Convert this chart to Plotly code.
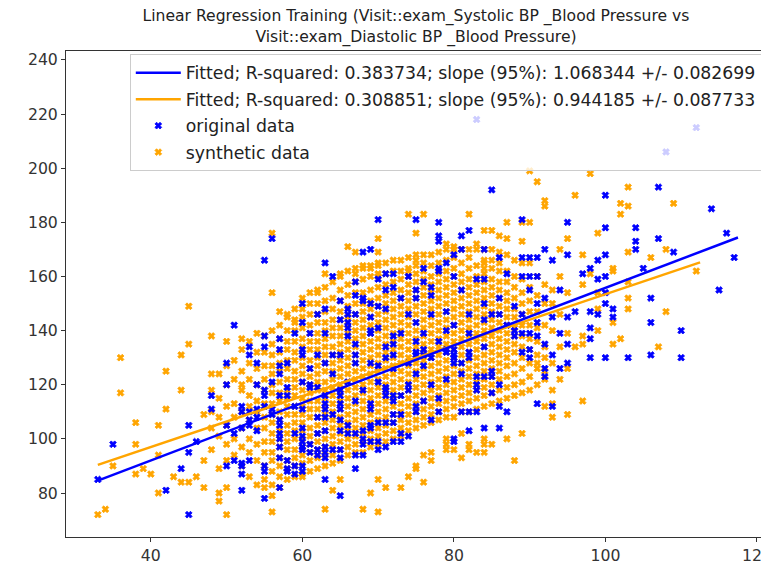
import plotly.graph_objects as go

# ---------------- text ----------------
TITLE = ("Linear Regression Training (Visit::exam_Systolic BP _Blood Pressure vs<br>"
         "Visit::exam_Diastolic BP _Blood Pressure)")
LABEL_FIT_ORIG = "Fitted; R-squared: 0.383734; slope (95%): 1.068344 +/- 0.082699"
LABEL_FIT_SYN = "Fitted; R-squared: 0.308851; slope (95%): 0.944185 +/- 0.087733"
LABEL_ORIG = "original data"
LABEL_SYN = "synthetic data"

x_ticks = [40, 60, 80, 100, 120]
y_ticks = [80, 100, 120, 140, 160, 180, 200, 220, 240]

# ---------------- fitted lines ----------------
fit_orig_x = [33, 117.5]
fit_orig_y = [84.6, 174.4]
fit_syn_x = [33, 112.5]
fit_syn_y = [90.4, 165.2]

# ---------------- original data (blue), per diastolic column ----------------
orig_col_x = [33, 35, 42, 44, 45, 46, 48, 50, 51, 52, 53, 54, 55, 56, 57, 58, 59, 60,
              61, 62, 63, 64, 65, 66, 67, 68, 69, 70, 71, 72, 73, 74, 75, 76, 77, 78,
              79, 80, 81, 82, 83, 84, 85, 86, 87, 88, 89, 90, 91, 92, 93, 94, 95, 96,
              97, 98, 99, 100, 101, 103, 104, 105, 106, 107, 108, 109, 110, 112, 114,
              115, 116, 117]
orig_col_y = [
    [85], [98], [81], [89], [72, 95, 105], [99], [111, 116],
    [90, 105, 120, 128], [92, 102, 142], [81, 87, 90, 91, 104, 110, 112],
    [92, 105, 107, 110, 131, 134], [103, 108, 111, 120, 128],
    [78, 88, 90, 112, 116, 118, 134, 138, 166], [109, 111, 121, 174],
    [82, 93, 97, 100, 102, 105, 107, 116, 124, 127, 133, 137],
    [88, 89, 92, 116, 119, 128], [87, 90, 102, 112, 139],
    [88, 90, 96, 97, 99, 101, 104, 111, 121, 131, 133, 143, 150],
    [95, 98, 119, 120, 126, 139], [94, 96, 102, 108, 119, 131, 146],
    [85, 93, 95, 97, 103, 108, 111, 113, 116, 128, 139, 148, 165],
    [96, 109, 124, 131, 160],
    [79, 93, 96, 103, 107, 111, 113, 116, 118, 131, 144, 151],
    [102, 105, 121, 138, 141, 143, 146, 148],
    [89, 94, 102, 114, 128, 131, 135, 146, 153, 158],
    [94, 98, 100, 103, 118, 151, 152, 169],
    [99, 104, 105, 111, 113, 128, 139, 140, 145, 150, 170],
    [96, 99, 106, 121, 127, 141, 149, 159, 181],
    [97, 106, 116, 118, 119, 130, 134, 148, 155, 161],
    [99, 106, 109, 114, 116, 126, 131, 135, 138, 156, 161],
    [99, 102, 109, 116, 139, 152],
    [101, 118, 120, 128, 146, 160],
    [110, 112, 124, 131, 132, 136, 143, 152, 155, 181],
    [114, 127, 131, 133, 139, 158, 163],
    [107, 120, 130, 146, 153, 156],
    [110, 115, 136, 162, 163, 173, 175, 180],
    [122, 132, 133, 140, 147, 165],
    [99, 100, 128, 130, 131, 133, 142, 160, 168],
    [110, 124, 128, 155, 170, 175],
    [103, 110, 130, 132, 139, 146, 177],
    [110, 118, 120, 123, 159, 218],
    [104, 123, 134, 144, 150, 159, 170],
    [117, 123, 125, 146, 192],
    [104, 112, 120, 146, 152, 167],
    [110, 142, 161],
    [138, 140, 149],
    [132, 139, 146, 160, 167, 181],
    [130, 133, 139, 155, 160, 167],
    [113, 138, 143, 150, 160, 167],
    [123, 126, 135, 152, 170],
    [112, 131, 145, 166],
    [126, 139, 155],
    [128, 135, 145, 168, 180],
    [147], [161],
    [130, 137, 141, 147, 163],
    [146, 159, 166],
    [130, 150, 154, 160, 168, 178, 190],
    [145, 148], [130], [170, 173, 178], [163], [131, 143, 152],
    [174, 193], [206], [169], [130, 140], [215], [185], [155], [176], [167],
]

# ---------------- synthetic data (orange) ----------------
syn_core_x = [48, 49, 50, 51, 52, 53, 54, 55, 56, 57, 58, 59, 60, 61, 62, 63, 64, 65,
              66, 67, 68, 69, 70, 71, 72, 73, 74, 75, 76, 77, 78, 79, 80, 81, 82, 83,
              84, 85, 86, 87, 88, 89, 90, 91, 92, 93, 94]
syn_core_y = [
    [104, 110, 124],
    [89, 101, 108, 115],
    [92, 98, 105, 112, 120],
    [94, 100, 108, 113, 122],
    [90, 97, 104, 110, 118, 125],
    [86, 95, 100, 107, 112, 116, 122, 128, 136],
    [92, 98, 104, 110, 114, 120, 126, 132],
    [90, 95, 99, 104, 108, 113, 118, 122, 127, 132],
    [88, 92, 95, 99, 102, 106, 109, 113, 117, 120, 124, 127, 131, 135, 140],
    [86, 90, 93, 97, 100, 103, 107, 110, 114, 117, 121, 125, 128, 132, 137, 142],
    [85, 89, 92, 96, 99, 102, 105, 109, 112, 115, 118, 122, 126, 129, 133, 136, 140, 145],
    [86, 90, 93, 96, 100, 103, 106, 109, 112, 116, 119, 122, 125, 129, 132, 136, 140, 144, 148],
    [87, 91, 94, 97, 100, 103, 106, 109, 112, 115, 118, 121, 124, 127, 130, 134, 137, 141, 145, 148, 152],
    [88, 92, 95, 98, 101, 104, 108, 111, 114, 117, 120, 123, 126, 129, 133, 136, 139, 142, 146, 150, 154],
    [89, 93, 96, 99, 102, 105, 108, 111, 114, 118, 121, 124, 127, 130, 133, 136, 139, 143, 146, 150, 155],
    [90, 94, 97, 100, 103, 106, 109, 112, 115, 118, 121, 125, 128, 131, 134, 137, 140, 143, 147, 151, 156],
    [91, 94, 98, 101, 104, 107, 110, 113, 116, 119, 122, 125, 128, 131, 134, 138, 141, 144, 148, 152, 158],
    [92, 96, 99, 102, 105, 108, 111, 114, 117, 120, 123, 126, 129, 132, 135, 138, 141, 144, 147, 151, 155, 160],
    [94, 97, 100, 103, 106, 109, 112, 115, 118, 121, 124, 127, 130, 133, 136, 139, 142, 145, 149, 153, 157, 162],
    [95, 98, 101, 104, 107, 110, 113, 116, 119, 122, 125, 128, 131, 134, 137, 140, 143, 146, 150, 154, 158, 163],
    [95, 99, 102, 105, 108, 111, 114, 117, 120, 123, 126, 129, 132, 135, 138, 141, 144, 147, 150, 154, 159, 164],
    [97, 100, 103, 106, 109, 112, 115, 118, 121, 124, 127, 130, 133, 136, 139, 142, 145, 148, 151, 155, 160, 164],
    [98, 101, 104, 107, 110, 113, 116, 119, 122, 125, 128, 131, 134, 137, 140, 143, 146, 149, 152, 156, 161, 165],
    [99, 102, 105, 108, 111, 114, 117, 120, 123, 126, 129, 132, 135, 138, 141, 144, 147, 150, 153, 157, 161, 165],
    [100, 103, 106, 109, 112, 115, 118, 121, 124, 127, 130, 133, 136, 139, 142, 145, 148, 151, 154, 158, 162, 166],
    [101, 104, 107, 110, 113, 116, 119, 122, 125, 128, 131, 134, 137, 140, 143, 146, 149, 152, 155, 159, 162, 166],
    [103, 106, 109, 112, 115, 118, 121, 124, 127, 130, 133, 136, 139, 142, 145, 148, 151, 154, 157, 160, 163, 167],
    [104, 107, 110, 113, 116, 119, 122, 125, 128, 131, 134, 137, 140, 143, 146, 149, 152, 155, 158, 161, 164, 168],
    [105, 108, 111, 114, 117, 120, 123, 126, 129, 132, 135, 138, 141, 144, 147, 150, 153, 156, 159, 162, 168],
    [106, 109, 112, 115, 118, 121, 124, 127, 130, 133, 136, 139, 142, 145, 148, 151, 154, 157, 160, 164, 168],
    [107, 110, 113, 116, 119, 122, 125, 128, 131, 134, 137, 140, 143, 146, 149, 152, 155, 158, 161, 165, 169],
    [108, 111, 114, 117, 120, 123, 126, 129, 132, 135, 138, 141, 144, 147, 150, 153, 156, 159, 162, 166, 170],
    [108, 112, 115, 118, 121, 124, 127, 130, 133, 136, 139, 142, 145, 148, 151, 154, 157, 160, 163, 167, 171],
    [110, 113, 116, 119, 122, 125, 128, 131, 134, 137, 140, 143, 146, 149, 152, 155, 158, 161, 165, 170],
    [110, 114, 117, 120, 123, 126, 129, 132, 135, 138, 141, 144, 147, 150, 153, 156, 159, 163, 167, 170],
    [111, 115, 118, 121, 124, 127, 130, 133, 136, 139, 142, 145, 148, 151, 154, 157, 160, 164, 170],
    [112, 116, 119, 122, 125, 128, 131, 134, 137, 140, 143, 146, 149, 152, 155, 158, 161, 165, 170],
    [113, 117, 120, 123, 126, 129, 132, 135, 138, 141, 144, 147, 150, 153, 156, 159, 163, 166, 170],
    [114, 118, 122, 125, 128, 131, 134, 137, 140, 143, 146, 149, 152, 155, 158, 162, 165, 169],
    [115, 119, 123, 127, 130, 133, 136, 139, 142, 145, 148, 151, 154, 158, 162, 168],
    [116, 120, 124, 128, 132, 135, 138, 141, 145, 148, 152, 156, 160, 166],
    [117, 121, 126, 130, 134, 138, 142, 146, 150, 154, 159, 165],
    [118, 123, 128, 133, 137, 142, 147, 151, 156, 165],
    [120, 126, 131, 136, 141, 147, 153, 160],
    [125, 134, 142, 150],
    [118, 128, 140],
    [122, 134, 146, 160],
]

syn_extra_x = [33, 34, 35, 36, 36, 38, 38, 38, 39, 40, 41, 41, 41, 42, 42, 43, 44, 44, 44,
               45, 45, 45, 46, 47, 47, 47, 48, 48, 48, 49, 49, 49, 50, 50, 50, 50, 51, 52,
               52, 52, 54, 55, 56, 56, 57, 58, 59,
               62, 63, 65, 66, 67, 67, 68, 69, 70, 70, 70, 70, 74, 74, 75, 75, 76, 76, 79,
               80, 82, 83, 84, 84, 84, 85, 86, 87, 87, 89, 89, 90, 90, 91, 92, 92,
               91, 92, 92, 92, 92, 93, 93, 93, 93, 94, 95, 95, 95, 95, 95, 96, 96, 97, 97,
               97, 97, 97, 98, 98, 99, 99, 99, 99, 101, 101, 101, 101, 102, 102, 102, 103,
               103, 103, 103, 103, 103, 106, 107, 108, 108, 109, 112,
               54, 55, 55, 56, 56, 56, 57, 60, 63, 64, 65, 68, 69, 70, 70, 71, 73, 74, 75,
               75, 76, 76, 77, 77, 79, 79, 79, 80, 81, 82, 82, 83, 84, 84, 84, 85, 87, 88,
               89, 81]
syn_extra_y = [72, 74, 90, 117, 130, 87, 98, 106, 89, 87, 80, 94, 105, 111, 125, 86, 84, 118, 131,
               84, 135, 149, 86, 82, 92, 109, 96, 118, 138, 77, 80, 124, 72, 82, 127, 136, 129, 120,
               133, 137, 139, 138, 154, 176, 147, 146, 143,
               154, 161, 161, 171, 169, 161, 163, 163, 160, 164, 169, 174, 162, 183, 166, 176, 165, 183, 172,
               170, 183, 172, 163, 166, 177, 177, 175, 174, 180, 173, 180, 180, 199, 195, 188, 186,
               128, 112, 122, 130, 157, 108, 113, 150, 155, 170, 109, 126, 139, 154, 174, 134, 190, 114, 135,
               138, 157, 168, 161, 198, 140, 148, 154, 176, 135, 143, 162, 163, 137, 183, 187, 148,
               152, 158, 169, 186, 193, 167, 134, 147, 170, 187, 162,
               83, 82, 85, 73, 79, 83, 82, 86, 74, 81, 85, 74, 80, 73, 85, 82, 82, 86, 89,
               90, 84, 94, 92, 95, 96, 98, 100, 96, 93, 96, 98, 95, 95, 98, 100, 98, 100, 92,
               102, 102]

# ---------------- expand columns into point lists ----------------
ox, oy = [], []
for x, ys in zip(orig_col_x, orig_col_y):
    ox += [x] * len(ys)
    oy += ys

sx, sy = [], []
for x, ys in zip(syn_core_x, syn_core_y):
    sx += [x] * len(ys)
    sy += ys
sx += syn_extra_x
sy += syn_extra_y

BLUE = "#0000ff"
ORANGE = "#ffa500"
FONT = "DejaVu Sans"

fig = go.Figure()
fig.add_trace(go.Scatter(x=sx, y=sy, mode="markers", name=LABEL_SYN,
                         marker=dict(symbol="x", size=6, color=ORANGE,
                                     line=dict(width=0.8, color=ORANGE)),
                         legendrank=4, legendgroup="d"))
fig.add_trace(go.Scatter(x=ox, y=oy, mode="markers", name=LABEL_ORIG,
                         marker=dict(symbol="x", size=6, color=BLUE,
                                     line=dict(width=0.8, color=BLUE)),
                         legendrank=3, legendgroup="c"))
fig.add_trace(go.Scatter(x=fit_syn_x, y=fit_syn_y, mode="lines", name=LABEL_FIT_SYN,
                         line=dict(color=ORANGE, width=2.5), legendrank=2, legendgroup="b"))
fig.add_trace(go.Scatter(x=fit_orig_x, y=fit_orig_y, mode="lines", name=LABEL_FIT_ORIG,
                         line=dict(color=BLUE, width=2.5), legendrank=1, legendgroup="a"))

axis_common = dict(showgrid=False, zeroline=False, showline=True, mirror=True,
                   linecolor="#333333", linewidth=1, ticks="outside", ticklen=4,
                   tickcolor="#333333", tickfont=dict(family=FONT, size=15.7, color="#333333"))

# page body adds an 8px offset; figure is sized so the page is 769x568
fig.update_layout(
    width=761, height=560,
    margin=dict(l=58, r=3, t=43, b=31),
    paper_bgcolor="white", plot_bgcolor="white",
    font=dict(family=FONT, color="#222222"),
    title=dict(text=TITLE, x=0.5, xref="paper", xanchor="center",
               y=0.976, yref="container", yanchor="top", pad=dict(t=0),
               font=dict(family=FONT, size=15.6, color="#222222")),
    xaxis=dict(range=[28.8, 121.2], tickvals=x_ticks, ticklabeloverflow="allow",
               automargin=False, **axis_common),
    yaxis=dict(range=[63.75, 243.3], tickvals=y_ticks, automargin=False, **axis_common),
    legend=dict(x=0.994, y=0.994, xanchor="right", yanchor="top",
                bgcolor="rgba(255,255,255,0.8)", bordercolor="#cccccc", borderwidth=1,
                font=dict(family=FONT, size=17.3, color="#222222"),
                traceorder="grouped", tracegroupgap=1, itemwidth=45),
    showlegend=True,
)

fig.write_html("out.html")
